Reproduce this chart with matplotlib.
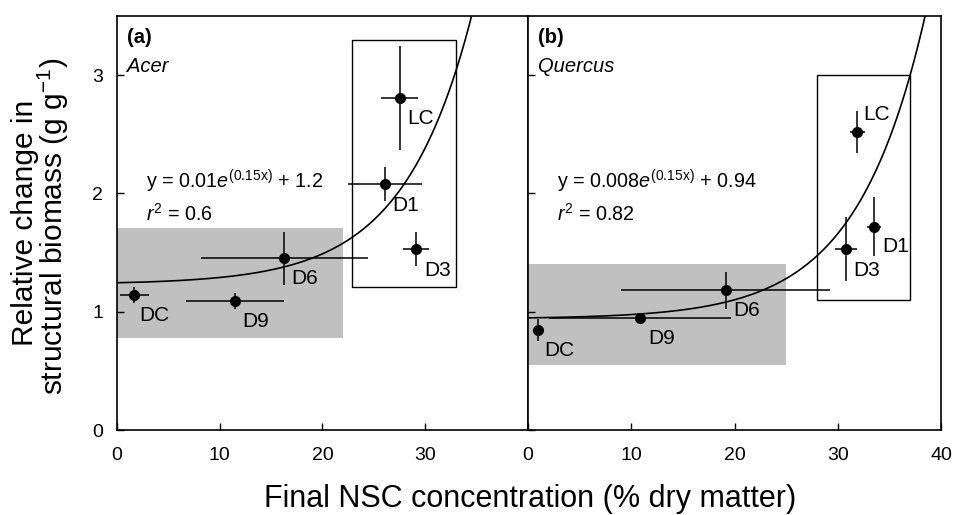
import numpy as np
import matplotlib
matplotlib.use("Agg")
import matplotlib.pyplot as plt
from matplotlib.patches import Rectangle

plt.rcParams["font.family"] = ["Liberation Sans", "DejaVu Sans"]
plt.rcParams["mathtext.fontset"] = "custom"
plt.rcParams["mathtext.rm"] = "Liberation Sans"
plt.rcParams["mathtext.it"] = "Liberation Sans:italic"
plt.rcParams["mathtext.bf"] = "Liberation Sans:bold"

# ---- data ----
labels_a = ["LC", "D1", "D3", "D6", "DC", "D9"]
x_a = [27.5, 26.1, 29.1, 16.3, 1.7, 11.5]
y_a = [2.81, 2.08, 1.53, 1.45, 1.14, 1.09]
xerr_a = [1.8, 3.6, 1.25, 8.1, 1.4, 4.8]
yerr_a = [0.44, 0.14, 0.145, 0.22, 0.07, 0.07]
lab_pos_a = [(28.3, 2.63), (26.8, 1.90), (29.9, 1.35), (17.0, 1.28), (2.2, 0.97), (12.2, 0.92)]
fit_a = (0.0128, 0.15, 1.232)          # drawn curve
shade_a = (0.0, 0.78, 22.0, 1.71)       # x0, y0, x1, y1
box_a = (22.9, 1.21, 33.0, 3.30)

labels_b = ["LC", "D1", "D3", "D6", "D9", "DC"]
x_b = [31.9, 33.5, 30.8, 19.15, 10.85, 0.94]
y_b = [2.52, 1.72, 1.53, 1.18, 0.944, 0.845]
xerr_b = [0.75, 0.7, 1.05, 10.1, 8.8, 0.3]
yerr_b = [0.18, 0.25, 0.27, 0.155, 0.02, 0.09]
lab_pos_b = [(32.5, 2.67), (34.3, 1.55), (31.5, 1.35), (19.9, 1.01), (11.6, 0.77), (1.55, 0.67)]
fit_b = (0.008, 0.15, 0.94)
shade_b = (0.0, 0.55, 25.0, 1.40)
box_b = (28.0, 1.10, 37.0, 3.00)

eq_a = r"y = 0.01$e^{(0.15\mathrm{x})}$ + 1.2"
r2_a = r"$r^2$ = 0.6"
eq_b = r"y = 0.008$e^{(0.15\mathrm{x})}$ + 0.94"
r2_b = r"$r^2$ = 0.82"

fig = plt.figure(figsize=(9.54, 5.15), dpi=100)
ax_a = fig.add_axes([0.1226, 0.165, 0.4308, 0.804])
ax_b = fig.add_axes([0.5535, 0.165, 0.4329, 0.804])


def draw_panel(ax, letter, genus, labels, xs, ys, xe, ye, lab_pos, fit, shade, box, eq, r2):
    x0, y0, x1, y1 = shade
    ax.add_patch(Rectangle((x0, y0), x1 - x0, y1 - y0, facecolor="#c0c0c0", edgecolor="none", zorder=1))
    bx0, by0, bx1, by1 = box
    ax.add_patch(Rectangle((bx0, by0), bx1 - bx0, by1 - by0, facecolor="none", edgecolor="black", linewidth=1.0, zorder=2))
    xx = np.linspace(0, 40, 400)
    a, b, c = fit
    ax.plot(xx, a * np.exp(b * xx) + c, color="black", linewidth=1.2, zorder=3)
    ax.errorbar(xs, ys, xerr=xe, yerr=ye, fmt="o", color="black", markersize=7,
                elinewidth=1.1, capsize=0, zorder=4)
    for lab, (lx, ly) in zip(labels, lab_pos):
        ax.text(lx, ly, lab, fontsize=15, ha="left", va="center", zorder=5)
    ax.text(1.0, 3.32, letter, fontsize=14.5, fontweight="bold", ha="left", va="center")
    ax.text(1.0, 3.07, genus, fontsize=14.5, style="italic", ha="left", va="center")
    ax.text(2.8, 2.10, eq, fontsize=14.2, ha="left", va="center")
    ax.text(2.8, 1.83, r2, fontsize=14.2, ha="left", va="center")
    ax.set_xlim(0, 40)
    ax.set_ylim(0, 3.5)
    ax.set_xticks([0, 10, 20, 30, 40])
    ax.set_yticks([0, 1, 2, 3])
    ax.tick_params(direction="in", length=5, width=1.0, labelsize=14)
    ax.tick_params(axis="x", pad=12)
    ax.tick_params(axis="y", pad=10)
    for sp in ax.spines.values():
        sp.set_linewidth(1.2)


draw_panel(ax_a, "(a)", "Acer", labels_a, x_a, y_a, xerr_a, yerr_a, lab_pos_a, fit_a, shade_a, box_a, eq_a, r2_a)
draw_panel(ax_b, "(b)", "Quercus", labels_b, x_b, y_b, xerr_b, yerr_b, lab_pos_b, fit_b, shade_b, box_b, eq_b, r2_b)

ax_a.set_xticks([0, 10, 20, 30])
ax_b.tick_params(labelleft=False)

fig.text(0.0345, 0.568, "Relative change in", rotation=90, rotation_mode="anchor",
         fontsize=21.5, ha="center", va="baseline")
fig.text(0.0665, 0.560, "structural biomass (g g$^{-1}$)", rotation=90, rotation_mode="anchor",
         fontsize=21.5, ha="center", va="baseline")
fig.text(0.556, 0.0155, "Final NSC concentration (% dry matter)", fontsize=22, ha="center", va="baseline")

fig.savefig("out.png", dpi=100)
